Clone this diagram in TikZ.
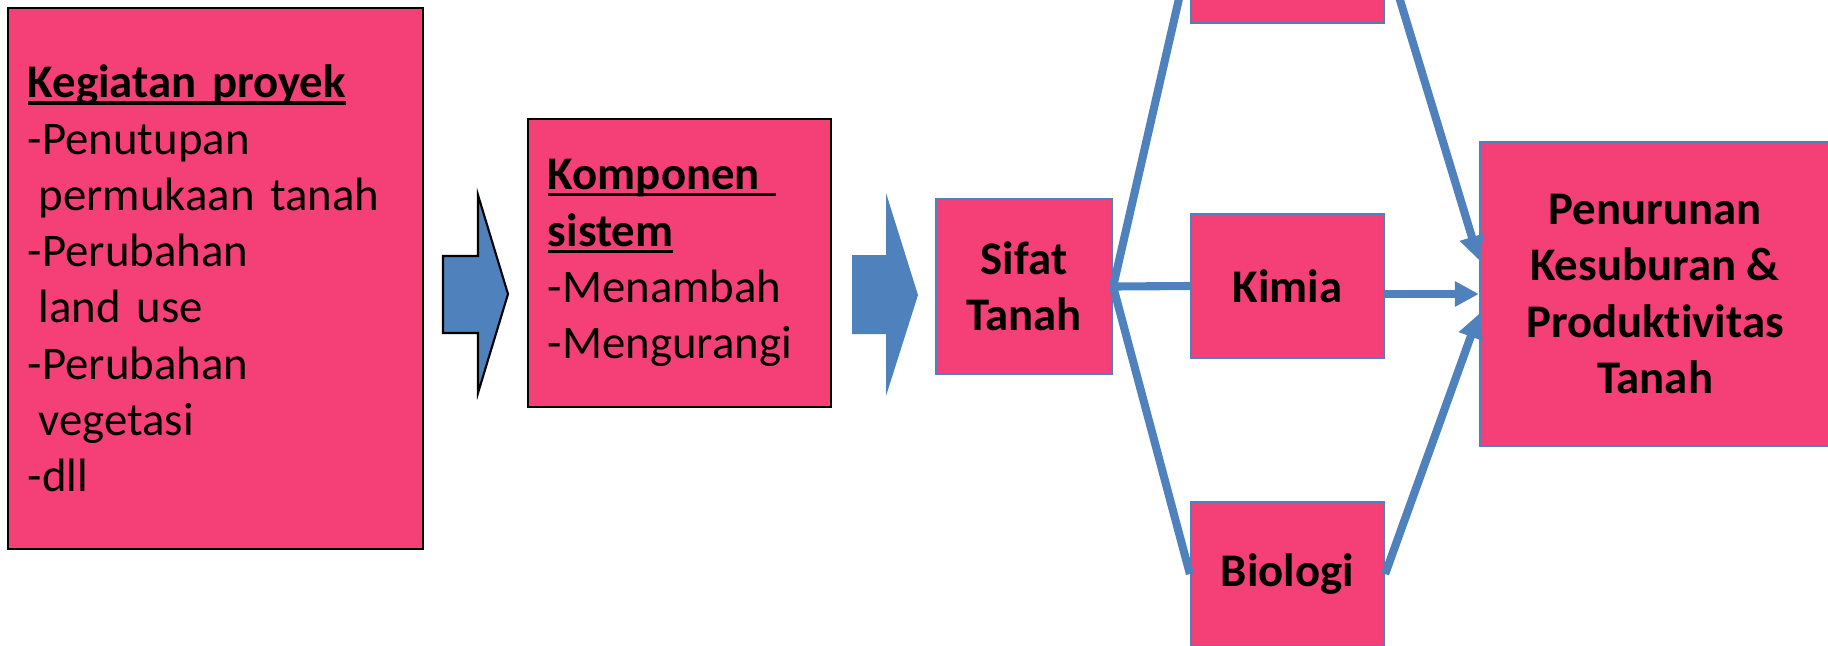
\documentclass[tikz,border=0pt]{standalone}
\usepackage{fontspec}
\setmainfont{Carlito}[Ligatures=NoCommon]
\usetikzlibrary{arrows.meta}
\usetikzlibrary{calc}
\usetikzlibrary{positioning}
\definecolor{pinkbox}{HTML}{F43F77}
\definecolor{bluefill}{HTML}{4F81BD}
\newcommand{\garisbawah}[1]{\leavevmode\setbox0\hbox{#1}\rlap{\rule[-1.9pt]{\wd0}{0.9pt}}\box0}

\begin{document}
\begin{tikzpicture}[x=0.01cm,y=-0.01cm,
	every node/.style={font=\fontsize{13.3}{16}\selectfont},
	blackbox/.style={draw=black,line width=0.6pt,fill=pinkbox,align=left,inner xsep=0.2cm,inner ysep=0pt},
	bluebox/.style={draw=bluefill,line width=0.6pt,fill=pinkbox,align=center,font=\fontsize{13.3}{16}\selectfont\bfseries},
	link/.style={draw=bluefill,line width=2.3pt},
	flow/.style={link,-{Triangle[length=6.8pt,width=6.8pt]}}]
	\useasboundingbox (0,0) rectangle (1828,645);
	\clip (0,0) rectangle (1828,645);

	\node [blackbox,text width=3.75cm,minimum height=5.41cm] (kegiatan) at (215.5,278.5) {\garisbawah{\textbf{Kegiatan proyek}}\\
		-Penutupan\\
		\hspace*{0.23em}permukaan tanah\\
		-Perubahan\\
		\hspace*{0.23em}land use\\
		-Perubahan\\
		\hspace*{0.23em}vegetasi\\
		-dll};
	\node [blackbox,text width=2.63cm,minimum height=2.88cm] (komponen) at (679.5,263) {\garisbawah{\textbf{Komponen\ }}\\
		\garisbawah{\textbf{sistem}}\\
		-Menambah\\
		-Mengurangi};

	% panah blok
	\draw [fill=bluefill,line width=0.6pt] (443,256) -- (478,256) -- (478,195) -- (508,294) -- (478,393) -- (478,333) -- (443,333) -- cycle;
	\fill [bluefill] (852,255) -- (886,255) -- (886,193) -- (918,295) -- (886,396) -- (886,334) -- (852,334) -- cycle;

	\node [bluebox,minimum width=1.76cm,minimum height=1.75cm] (sifat) at (1024,286.5) {Sifat\\Tanah};
	\node [bluebox,minimum width=1.93cm,minimum height=1.44cm] (fisika) at (1287.5,-49) {};
	\node [bluebox,minimum width=1.93cm,minimum height=1.44cm] (kimia) at (1287.5,286) {Kimia};
	\node [bluebox,minimum width=1.93cm,minimum height=1.44cm] (biologi) at (1287.5,574) {Biologi};
	\node [bluebox,minimum width=3.5cm,minimum height=3.04cm] (turun) at (1655,294) {Penurunan\\Kesuburan \&\\Produktivitas\\Tanah};

	\draw [link] (sifat.east) -- (fisika.west);
	\draw [link] (sifat.east) -- (kimia.west);
	\draw [link] (sifat.east) -- (biologi.west);

	\draw [flow] (fisika.east) -- ($(turun.west)+(0,-34)$);
	\draw [flow] (kimia.east |- turun.west) -- (turun.west);
	\draw [flow] (biologi.east) -- ($(turun.west)+(0,20)$);
\end{tikzpicture}
\end{document}
